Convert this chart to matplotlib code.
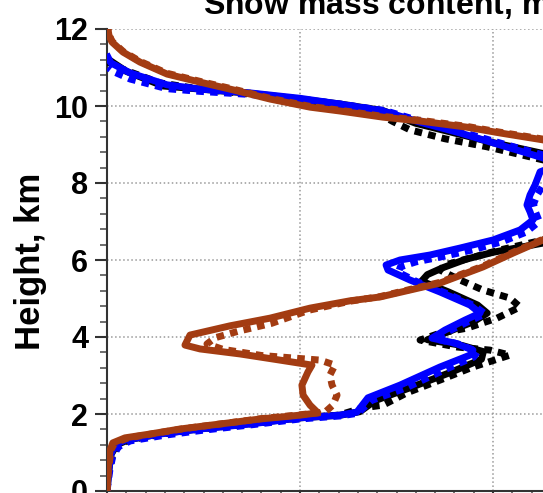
import matplotlib
matplotlib.use('Agg')
import matplotlib.pyplot as plt
from matplotlib.ticker import MultipleLocator

# 字体设置
plt.rcParams['font.family'] = ['Liberation Sans', 'DejaVu Sans']
plt.rcParams['font.weight'] = 'bold'

# ---- 数据 (高度 km, 雪质量含量) ----
blue_solid_h = [0, 0.55, 0.94, 1.19, 1.32, 1.48, 1.61, 1.74, 1.90, 1.97, 2.05, 2.42, 2.75, 3.22, 3.53, 3.66,
                3.84, 3.97, 4.18, 4.44, 4.62, 4.83, 5.17, 5.48, 5.74, 5.87, 6.0, 6.13, 6.31, 6.52, 6.78, 7.04,
                7.25, 7.43, 7.69, 7.95, 8.29, 8.45, 8.65, 8.99, 9.30, 9.58, 9.87, 10.05, 10.2, 10.34, 10.44,
                10.55, 10.86, 11.12, 11.27]
blue_solid_x = [0, 0.001, 0.002, 0.004, 0.0093, 0.0275, 0.0482, 0.0741, 0.1, 0.1207, 0.1295, 0.1352, 0.1518,
                0.1725, 0.1881, 0.1896, 0.1803, 0.1684, 0.1751, 0.1855, 0.1933, 0.1881, 0.1725, 0.157, 0.1456,
                0.1446, 0.1518, 0.1674, 0.1829, 0.2, 0.214, 0.2207, 0.2192, 0.2176, 0.2192, 0.2218, 0.2244,
                0.233, 0.226, 0.2036, 0.1829, 0.1622, 0.143, 0.1207, 0.1, 0.0741, 0.0482, 0.0311, 0.0119,
                0.002, 0.0005]

blue_dash_h = [0, 0.55, 0.9, 1.15, 1.3, 1.45, 1.58, 1.72, 1.87, 1.95, 2.02, 2.35, 2.68, 3.15, 3.48, 3.62,
               3.82, 3.95, 4.15, 4.42, 4.6, 4.82, 5.15, 5.45, 5.68, 5.82, 5.95, 6.1, 6.27, 6.48, 6.72, 7.0,
               7.25, 7.45, 7.7, 7.95, 8.25, 8.5, 8.7, 9.02, 9.32, 9.6, 9.88, 10.05, 10.18, 10.3, 10.38,
               10.45, 10.7, 10.9, 11.0]
blue_dash_x = [0, 0.0015, 0.003, 0.006, 0.012, 0.03, 0.05, 0.075, 0.1, 0.121, 0.13, 0.137, 0.155, 0.175,
               0.19, 0.192, 0.182, 0.17, 0.177, 0.188, 0.196, 0.19, 0.175, 0.16, 0.151, 0.152, 0.16, 0.175,
               0.19, 0.205, 0.217, 0.224, 0.222, 0.221, 0.223, 0.226, 0.229, 0.237, 0.228, 0.205, 0.184,
               0.163, 0.144, 0.121, 0.1, 0.074, 0.048, 0.031, 0.012, 0.003, 0.0005]

black_solid_h = [0, 0.55, 0.94, 1.2, 1.33, 1.49, 1.62, 1.75, 1.9, 1.97, 2.06, 2.35, 2.7, 3.08, 3.42, 3.62,
                 3.78, 3.93, 4.12, 4.4, 4.62, 4.83, 5.17, 5.45, 5.62, 5.8, 6.02, 6.2, 6.44, 6.9, 7.6, 8.3,
                 8.7, 9.05, 9.3, 9.55, 9.88, 10.05, 10.18, 10.33, 10.44, 10.52, 10.9, 11.2]
black_solid_x = [0, 0.001, 0.002, 0.005, 0.011, 0.028, 0.049, 0.074, 0.1, 0.121, 0.131, 0.139, 0.158, 0.178,
                 0.194, 0.195, 0.184, 0.166, 0.176, 0.19, 0.197, 0.192, 0.177, 0.163, 0.166, 0.174, 0.186,
                 0.2, 0.226, 0.245, 0.255, 0.25, 0.232, 0.2, 0.18, 0.16, 0.143, 0.121, 0.1, 0.074, 0.048,
                 0.029, 0.01, 0.001]

black_dash_h = [0, 0.55, 0.95, 1.2, 1.33, 1.49, 1.62, 1.75, 1.9, 1.97, 2.16, 2.23, 2.55, 2.88, 3.22, 3.53,
                3.66, 3.74, 3.92, 4.10, 4.23, 4.49, 4.78, 5.01, 5.22, 5.48, 5.74, 5.87, 6.05, 6.26, 6.52,
                7.0, 7.8, 8.4, 8.6, 8.94, 9.15, 9.38, 9.6, 9.78, 10.0, 10.16, 10.31, 10.44, 10.6, 10.98,
                11.14]
black_dash_x = [0, 0.001, 0.003, 0.006, 0.012, 0.03, 0.05, 0.075, 0.1, 0.12, 0.1326, 0.143, 0.1554, 0.1725,
                0.1896, 0.2088, 0.1984, 0.1813, 0.1622, 0.1725, 0.1865, 0.2021, 0.214, 0.2088, 0.1948,
                0.1829, 0.1725, 0.1751, 0.1881, 0.2036, 0.2259, 0.25, 0.265, 0.245, 0.2259, 0.1969, 0.175,
                0.157, 0.148, 0.1415, 0.1207, 0.1, 0.0741, 0.0482, 0.0275, 0.0067, 0.0005]

brown_solid_h = [0, 0.55, 1.06, 1.25, 1.38, 1.48, 1.61, 1.74, 1.87, 1.97, 2.03, 2.23, 2.49, 2.75, 3.09, 3.27,
                 3.40, 3.56, 3.69, 3.79, 4.05, 4.29, 4.49, 4.75, 4.94, 5.04, 5.40, 5.82, 6.18, 6.52, 7.0,
                 7.8, 8.6, 9.0, 9.12, 9.30, 9.45, 9.61, 9.71, 9.87, 9.97, 10.18, 10.42, 10.62, 10.83,
                 11.14, 11.4, 11.66, 11.84, 12.0]
brown_solid_x = [0, 0.0005, 0.0016, 0.003, 0.0093, 0.0223, 0.0378, 0.0585, 0.0793, 0.1, 0.1093, 0.1052,
                 0.1016, 0.101, 0.1041, 0.1062, 0.0896, 0.0689, 0.0482, 0.0404, 0.043, 0.0637, 0.0845,
                 0.1052, 0.1259, 0.1415, 0.1725, 0.1948, 0.2104, 0.2259, 0.245, 0.255, 0.25, 0.235, 0.2259,
                 0.2036, 0.1865, 0.1622, 0.143, 0.1207, 0.1052, 0.0845, 0.0653, 0.0482, 0.0311, 0.0171,
                 0.0083, 0.0026, 0.001, 0.0005]

brown_dash_h = [0, 0.55, 1.06, 1.25, 1.38, 1.49, 1.62, 1.75, 1.88, 1.98, 2.05, 2.23, 2.49, 2.75, 3.01, 3.27,
                3.40, 3.52, 3.68, 3.82, 3.98, 4.15, 4.35, 4.7, 4.93, 5.05, 5.42, 5.84, 6.2, 6.54, 7.05, 7.8,
                8.6, 9.0, 9.14, 9.32, 9.47, 9.63, 9.73, 9.89, 9.99, 10.2, 10.44, 10.64, 10.85, 11.16, 11.42,
                11.68, 11.86, 12.0]
brown_dash_x = [0, 0.0008, 0.002, 0.004, 0.011, 0.024, 0.04, 0.06, 0.08, 0.1, 0.113, 0.117, 0.1192, 0.1166,
                0.1155, 0.1181, 0.1104, 0.08, 0.06, 0.0518, 0.056, 0.068, 0.085, 0.105, 0.126, 0.1415,
                0.1725, 0.1948, 0.2104, 0.2259, 0.245, 0.256, 0.252, 0.237, 0.2259, 0.2036, 0.1865, 0.1622,
                0.143, 0.1207, 0.1052, 0.0845, 0.0653, 0.0482, 0.0311, 0.0171, 0.0083, 0.0026, 0.001, 0.0005]

y_ticks = [0, 2, 4, 6, 8, 10, 12]

BLUE = '#0000FF'
BROWN = '#A33C12'
DASH = (1.1, 0.9)


def draw():
    fig = plt.figure(figsize=(5.43, 4.93), dpi=100)
    # 坐标轴故意超出画布右侧（参考图是裁剪过的）
    ax = fig.add_axes([107 / 543, 2 / 493, 579 / 543, 462 / 493])

    lw = 5.0
    ax.plot(black_dash_x, black_dash_h, color='black', lw=lw, dashes=DASH, zorder=3)
    ax.plot(black_solid_x, black_solid_h, color='black', lw=lw, zorder=3)
    ax.plot(blue_dash_x, blue_dash_h, color=BLUE, lw=lw, dashes=DASH, zorder=4)
    ax.plot(blue_solid_x, blue_solid_h, color=BLUE, lw=lw, zorder=4)
    ax.plot(brown_dash_x, brown_dash_h, color=BROWN, lw=lw, dashes=DASH, zorder=5)
    ax.plot(brown_solid_x, brown_solid_h, color=BROWN, lw=lw, zorder=5)

    ax.set_xlim(0, 0.3)
    ax.set_ylim(0, 12)
    ax.set_yticks(y_ticks)
    ax.set_yticklabels([str(t) for t in y_ticks], fontsize=22, fontweight='bold')
    ax.yaxis.set_minor_locator(MultipleLocator(0.4))
    ax.xaxis.set_major_locator(MultipleLocator(0.1))
    ax.xaxis.set_minor_locator(MultipleLocator(0.01))
    ax.tick_params(axis='both', which='major', direction='out', length=8.5, width=1.5,
                   color='#333333', pad=5)
    ax.tick_params(axis='both', which='minor', direction='out', length=5, width=1.2,
                   color='#555555')
    # x 轴刻度标签在参考图中被裁掉了
    ax.tick_params(axis='x', labelbottom=False)

    ax.grid(True, which='major', linestyle=':', color='#999999', lw=1.1)
    ax.spines['top'].set_visible(False)
    ax.spines['right'].set_visible(False)
    for s in ('left', 'bottom'):
        ax.spines[s].set_color('#333333')
        ax.spines[s].set_linewidth(1.5)

    fig.text(31 / 543, 1 - 261 / 493, 'Height, km', rotation=90, fontsize=25,
             fontweight='bold', ha='center', va='center')
    fig.text(203 / 543, 1 - 15 / 493, 'Snow mass content, mg/m$^\\mathbf{3}$', fontsize=23,
             fontweight='bold', ha='left', va='baseline')

    fig.savefig('out.png', dpi=100)


if __name__ == '__main__':
    draw()
